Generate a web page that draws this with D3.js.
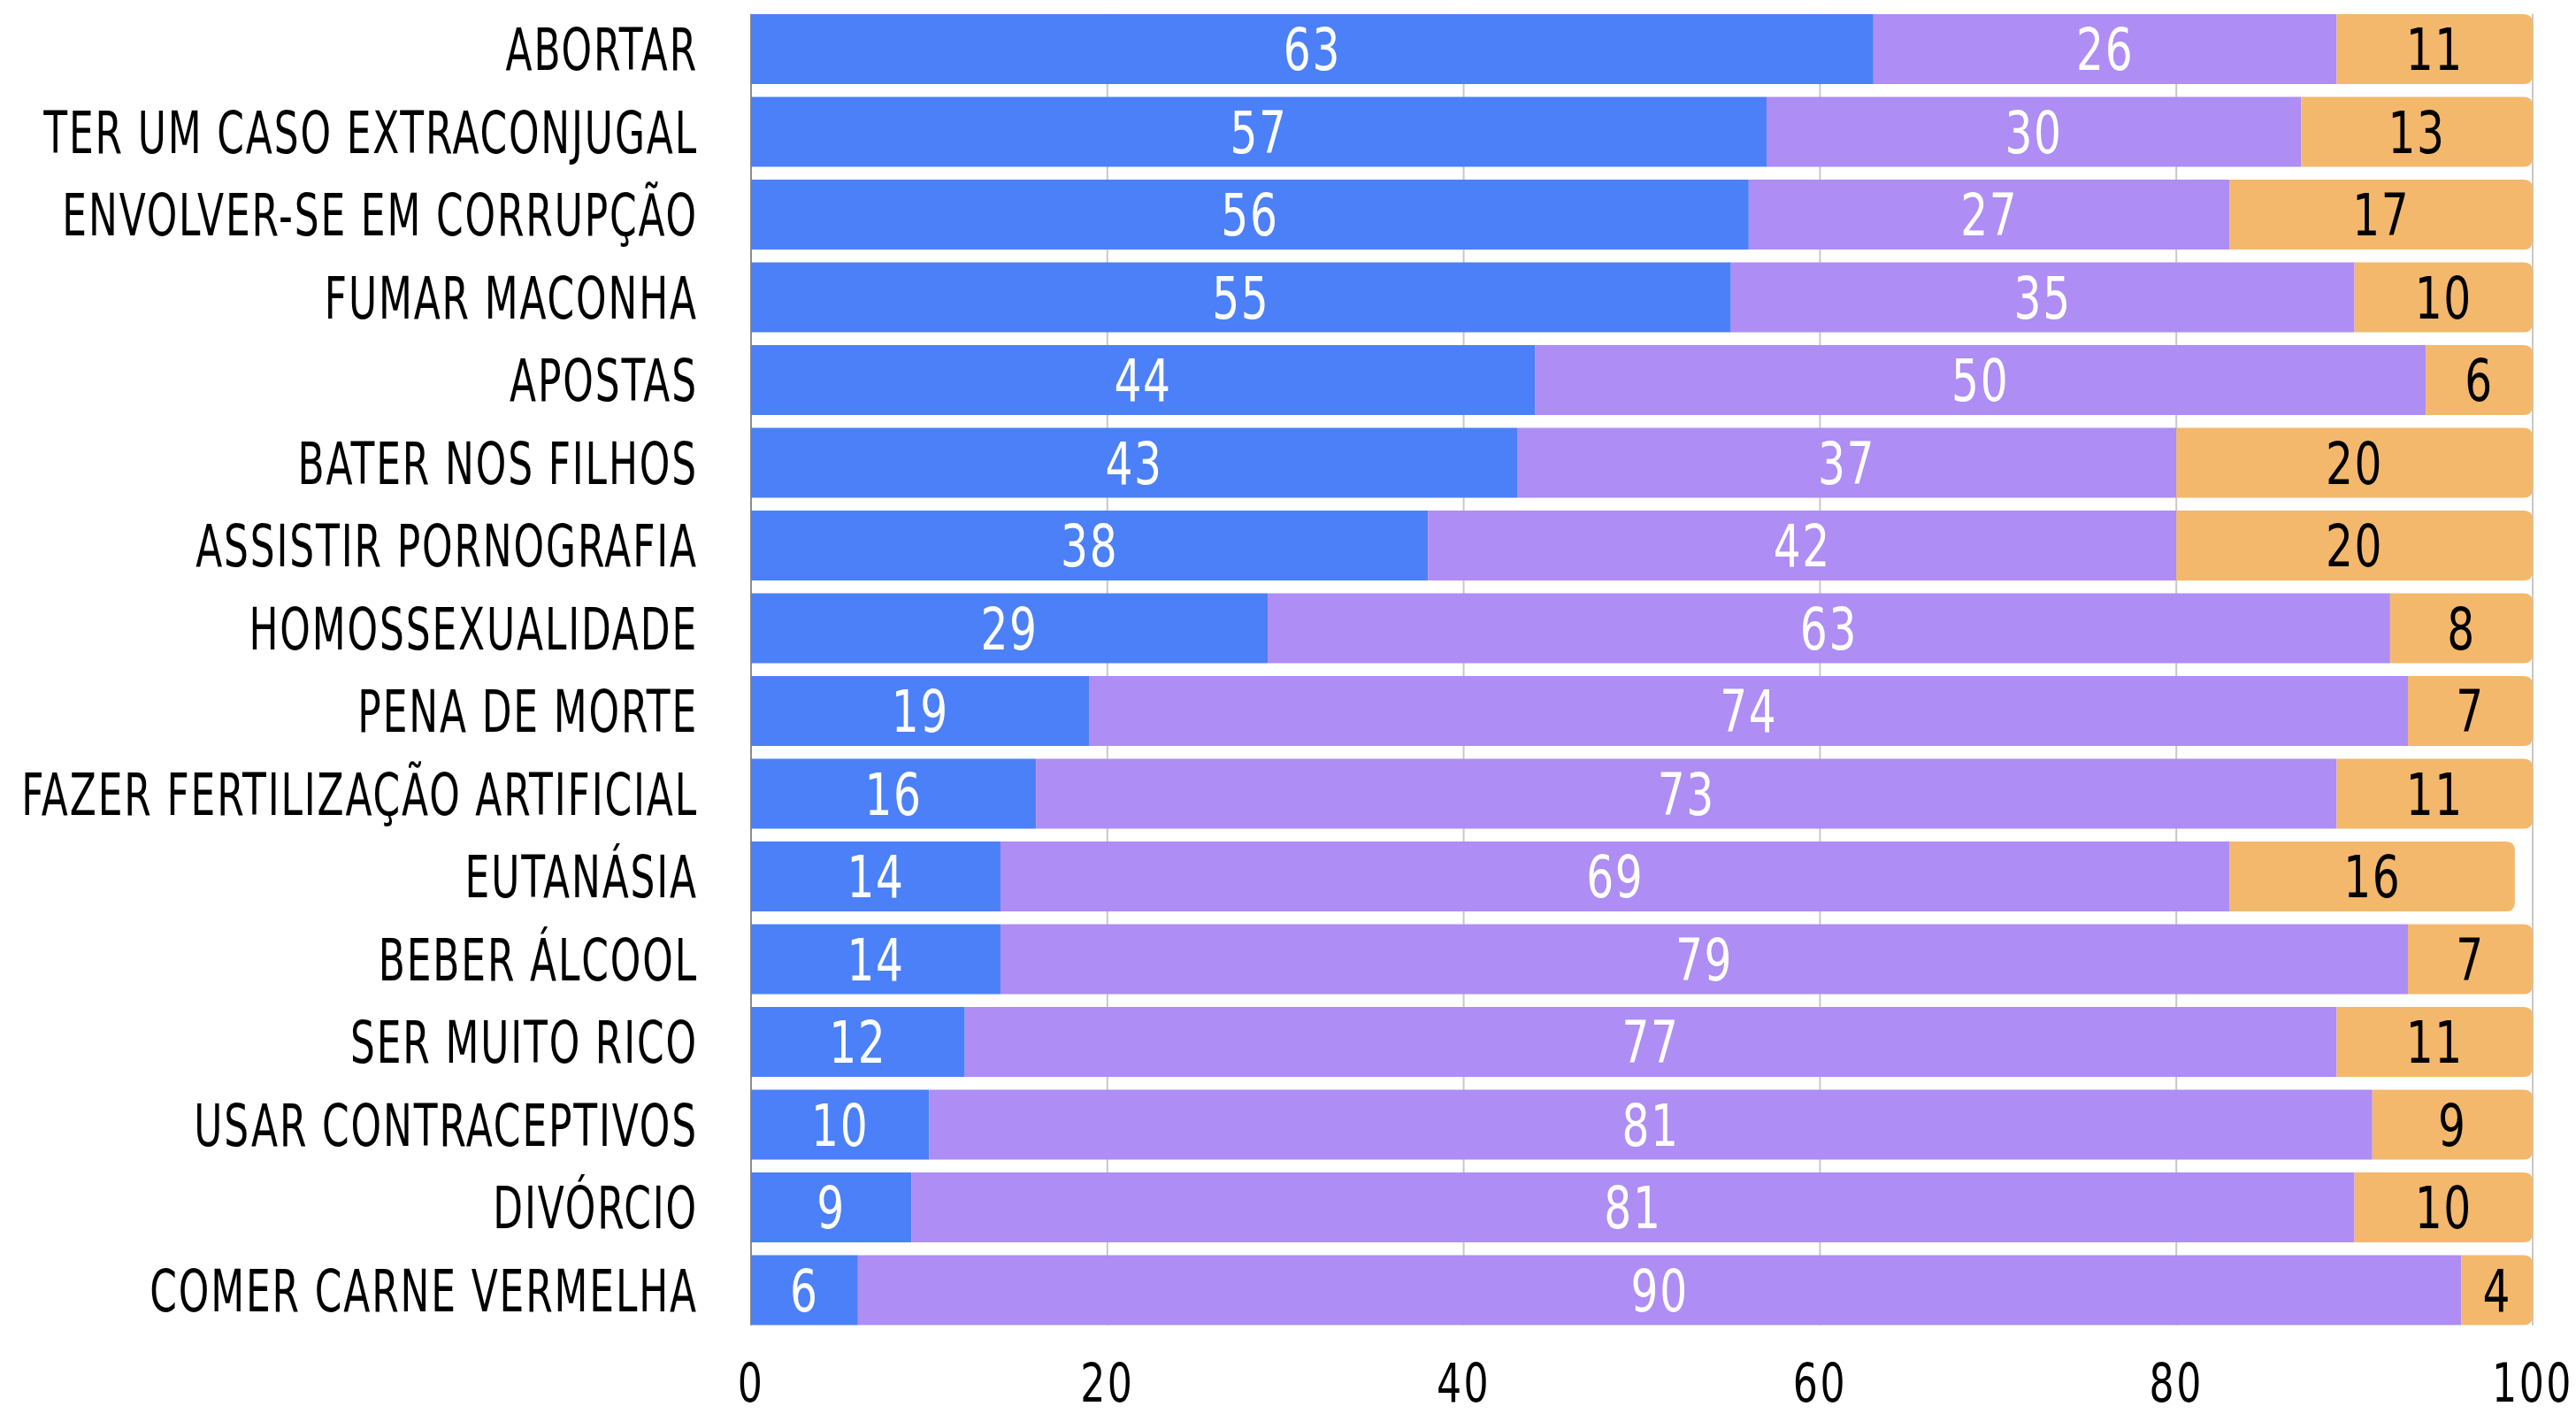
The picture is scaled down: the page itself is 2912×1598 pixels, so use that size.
<!DOCTYPE html>
<html>
<head>
<meta charset="utf-8">
<script src="https://cdn.jsdelivr.net/npm/d3@7"></script>
<style>
  body { margin: 0; background: #fff; }
  text { font-family: "Liberation Sans Narrow", "DejaVu Sans Condensed", sans-serif; }
</style>
</head>
<body>
<svg id="chart" width="2912" height="1598"></svg>
<script>
var categories = [
    'ABORTAR', 'TER UM CASO EXTRACONJUGAL', 'ENVOLVER-SE EM CORRUPÇÃO', 'FUMAR MACONHA',
    'APOSTAS', 'BATER NOS FILHOS', 'ASSISTIR PORNOGRAFIA', 'HOMOSSEXUALIDADE',
    'PENA DE MORTE', 'FAZER FERTILIZAÇÃO ARTIFICIAL', 'EUTANÁSIA', 'BEBER ÁLCOOL',
    'SER MUITO RICO', 'USAR CONTRACEPTIVOS', 'DIVÓRCIO', 'COMER CARNE VERMELHA'
];
var errado     = [63, 57, 56, 55, 44, 43, 38, 29, 19, 16, 14, 14, 12, 10, 9, 6];
var aceitavel  = [26, 30, 27, 35, 50, 37, 42, 63, 74, 73, 69, 79, 77, 81, 81, 90];
var naoMoral   = [11, 13, 17, 10, 6, 20, 20, 8, 7, 11, 16, 7, 11, 9, 10, 4];
var xTicks = [0, 20, 40, 60, 80, 100];

var seriesKeys = ['errado', 'aceitavel', 'naoMoral'],
    colors = ['#4c80f8', '#ae8df4', '#f3b86c'],
    textColors = ['#ffffff', '#ffffff', '#000000'];

var rows = categories.map(function(c, i) {
    return { cat: c, errado: errado[i], aceitavel: aceitavel[i], naoMoral: naoMoral[i] };
});

var svg = d3.select('#chart'),
    left = 849,
    right = 2863,
    squeeze = 0.82,
    labelSqueeze = 0.74;

var x = d3.scaleLinear().domain([0, 100]).range([left, right]);
var y = d3.scaleBand().domain(categories).range([8.75, 1504.75])
    .paddingInner(0.155).paddingOuter(0.0775);

// Gridlines sit behind the bars
svg.append('g').selectAll('line')
    .data(xTicks)
    .enter().append('line')
    .attr('x1', function(d) { return x(d); })
    .attr('x2', function(d) { return x(d); })
    .attr('y1', y.range()[0] + 7)
    .attr('y2', y.range()[1] - 7)
    .style('stroke', function(d) { return d === 0 ? '#8c8c8c' : '#c8c8c8'; })
    .style('stroke-width', '2px');

var stacked = d3.stack().keys(seriesKeys)(rows);
var r = 10;

var layers = svg.append('g').selectAll('g')
    .data(stacked)
    .enter().append('g')
    .style('fill', function(d, i) { return colors[i]; });

layers.each(function(layer, li) {
    var g = d3.select(this);
    if (li < seriesKeys.length - 1) {
        g.selectAll('rect')
            .data(layer)
            .enter().append('rect')
            .attr('x', function(d) { return x(d[0]); })
            .attr('y', function(d) { return y(d.data.cat); })
            .attr('width', function(d) { return x(d[1]) - x(d[0]); })
            .attr('height', y.bandwidth());
    } else {
        // last segment gets rounded right corners
        g.selectAll('path')
            .data(layer)
            .enter().append('path')
            .attr('d', function(d) {
                var x0 = x(d[0]), x1 = x(d[1]),
                    y0 = y(d.data.cat), y1 = y0 + y.bandwidth();
                return 'M' + x0 + ',' + y0 +
                    'H' + (x1 - r) +
                    'Q' + x1 + ',' + y0 + ' ' + x1 + ',' + (y0 + r) +
                    'V' + (y1 - r) +
                    'Q' + x1 + ',' + y1 + ' ' + (x1 - r) + ',' + y1 +
                    'H' + x0 + 'Z';
            });
    }

    g.selectAll('text')
        .data(layer)
        .enter().append('text')
        .attr('transform', function(d) {
            return 'translate(' + (x(d[0]) + x(d[1])) / 2 + ',' +
                (y(d.data.cat) + y.bandwidth() / 2) + ') scale(' + squeeze + ',1)';
        })
        .attr('dy', '0.36em')
        .attr('text-anchor', 'middle')
        .attr('font-size', '66px')
        .style('letter-spacing', '2px')
        .style('fill', textColors[li])
        .text(function(d) { return d[1] - d[0]; });
});

// Category labels
svg.append('g').selectAll('text')
    .data(categories)
    .enter().append('text')
    .attr('transform', function(d) {
        return 'translate(' + (left - 60) + ',' + (y(d) + y.bandwidth() / 2) + ') scale(' + labelSqueeze + ',1)';
    })
    .attr('dy', '0.36em')
    .attr('text-anchor', 'end')
    .attr('font-size', '66px')
    .style('letter-spacing', '2.5px')
    .style('fill', '#000')
    .text(function(d) { return d; });

// Bottom axis labels
svg.append('g').selectAll('text')
    .data(xTicks)
    .enter().append('text')
    .attr('transform', function(d) {
        return 'translate(' + x(d) + ',1562) scale(' + squeeze + ',1)';
    })
    .attr('dy', '0.36em')
    .attr('text-anchor', 'middle')
    .attr('font-size', '60px')
    .style('letter-spacing', '3px')
    .style('fill', '#000')
    .text(function(d) { return d; });
</script>
</body>
</html>
